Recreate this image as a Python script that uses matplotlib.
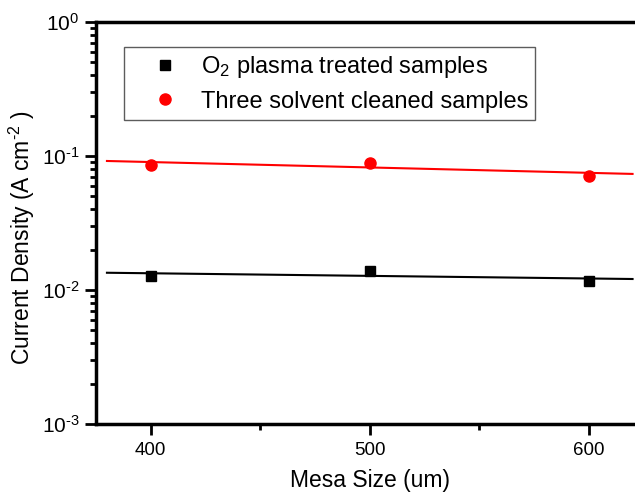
import matplotlib
matplotlib.use('Agg')
import matplotlib.pyplot as plt
from matplotlib.ticker import LogLocator, NullFormatter, MultipleLocator, FixedFormatter, FixedLocator

plt.rcParams['font.family'] = ['Liberation Sans', 'DejaVu Sans']
plt.rcParams['mathtext.fontset'] = 'custom'
plt.rcParams['mathtext.rm'] = 'Liberation Sans'
plt.rcParams['mathtext.it'] = 'Liberation Sans'

# data
mesa = [400, 500, 600]
o2_plasma = [0.0127, 0.0139, 0.0117]
three_solvent = [0.0857, 0.0887, 0.071]

# fitted lines (end points)
fit_x = [380, 620]
o2_fit = [0.01345, 0.01208]
solvent_fit = [0.0918, 0.0735]

y_ticks = [1e-3, 1e-2, 1e-1, 1]
y_tick_labels = [r'10$^{\text{-}3}$', r'10$^{\text{-}2}$', r'10$^{\text{-}1}$', r'10$^{0}$']

fig = plt.figure(figsize=(6.35, 4.96), dpi=100)
ax = fig.add_axes([96/635, 72/496, 547.5/635, 402/496])

ax.plot(fit_x, o2_fit, color='black', lw=1.5)
ax.plot(fit_x, solvent_fit, color='red', lw=1.5)
ax.plot(mesa, o2_plasma, 's', color='black', ms=7, label='O$_2$ plasma treated samples')
ax.plot(mesa, three_solvent, 'o', color='red', ms=8, label='Three solvent cleaned samples')

ax.set_yscale('log')
ax.set_ylim(1e-3, 1)
ax.set_xlim(375, 625)

ax.xaxis.set_major_locator(MultipleLocator(100))
ax.xaxis.set_minor_locator(MultipleLocator(50))
ax.yaxis.set_major_locator(FixedLocator(y_ticks))
ax.yaxis.set_major_formatter(FixedFormatter(y_tick_labels))
ax.yaxis.set_minor_locator(LogLocator(base=10, subs=range(2, 10), numticks=20))
ax.yaxis.set_minor_formatter(NullFormatter())

for s in ['left', 'bottom', 'top']:
    ax.spines[s].set_linewidth(2.5)
ax.spines['right'].set_visible(False)

ax.tick_params(axis='both', which='major', direction='out', length=8, width=2,
               labelsize=13.5)
ax.tick_params(axis='both', which='minor', direction='out', length=4.5, width=2)
ax.tick_params(axis='x', pad=5)
ax.tick_params(axis='y', pad=4, labelsize=15)

ax.set_xlabel('Mesa Size (um)', fontsize=16.5, labelpad=7)
ax.set_ylabel('Current Density (A cm$^{\\text{-}2}$ )', fontsize=16.5)
ax.yaxis.set_label_coords(-0.108, 0.463)

leg = ax.legend(loc='upper left', bbox_to_anchor=(0.051, 0.938),
                fontsize=17, frameon=True, fancybox=False,
                handletextpad=0.05, borderpad=0.3, labelspacing=0.45,
                handlelength=2.9, borderaxespad=0)
leg.get_frame().set_edgecolor('#333333')
leg.get_frame().set_linewidth(1.0)

fig.savefig('out.png', dpi=100)
